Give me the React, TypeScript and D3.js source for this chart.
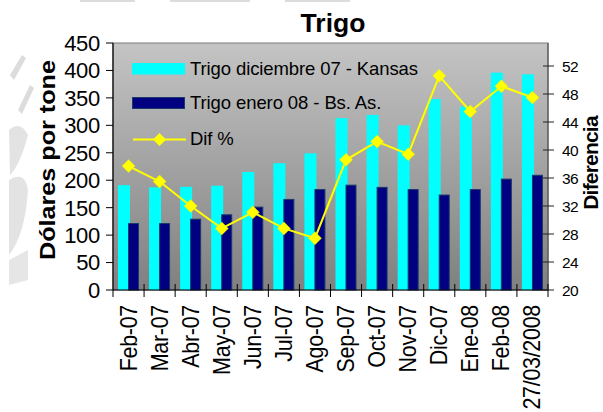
import React from "react";
import * as d3 from "d3";

const categories = ["Feb-07","Mar-07","Abr-07","May-07","Jun-07","Jul-07","Ago-07","Sep-07","Oct-07","Nov-07","Dic-07","Ene-08","Feb-08","27/03/2008"];
const kansas = [191, 187, 188, 190, 215, 231, 249, 313, 319, 300, 348, 334, 396, 393];
const bsas = [121, 121, 129, 137, 151, 165, 183, 191, 187, 183, 173, 183, 202, 209];
const difPct = [37.7, 35.5, 32.0, 28.8, 31.1, 28.8, 27.4, 38.6, 41.2, 39.4, 50.6, 45.5, 49.1, 47.5];
const leftTicks = [0, 50, 100, 150, 200, 250, 300, 350, 400, 450];
const rightTicks = [20, 24, 28, 32, 36, 40, 44, 48, 52];
const seriesNames = ["Trigo diciembre 07 - Kansas", "Trigo enero 08 - Bs. As.", "Dif %"];

const W = 603, H = 412;
const L = 113, R = 548, T = 43, B = 290;
const FONT = "'Liberation Sans', Arial, sans-serif";

export default function App() {
  const x = d3.scaleBand<string>().domain(categories).range([L, R]).padding(0);
  const bw = x.bandwidth();
  const yL = d3.scaleLinear().domain([0, 450]).range([B, T]);
  const yR = d3.scaleLinear().domain([20, 20 + (B - T) / 7]).range([B, T]);
  const line = d3.line<number>()
    .x((_, i) => (x(categories[i]) as number) + bw / 2)
    .y((d) => yR(d));
  const diamond = (cx: number, cy: number, r: number) =>
    `M${cx},${cy - r}L${cx + r},${cy}L${cx},${cy + r}L${cx - r},${cy}Z`;

  return (
    <svg width={W} height={H} style={{ position: "fixed", left: 0, top: 0, background: "#fff" }} fontFamily={FONT}>
      <defs>
        <linearGradient id="bg" x1="0" y1="0" x2="0" y2="1">
          <stop offset="0" stopColor="#c4c4c4" />
          <stop offset="1" stopColor="#808080" />
        </linearGradient>
      </defs>
      {/* faint watermark fragments */}
      <g fill="#dcdcdc">
        <rect x={80} y={0} width={55} height={2} />
        <rect x={170} y={0} width={60} height={2} />
        <rect x={228} y={0} width={22} height={2} />
        <rect x={285} y={0} width={65} height={2} />
        <path d="M10,75 L22,55 L26,58 L14,80 Z" />
        <path d="M18,110 L30,85 L34,88 L22,114 Z" />
        <path d="M9,130 Q20,120 28,135 Q20,165 10,175 Z" opacity={0.8} />
        <path d="M9,180 Q25,170 28,190 Q25,235 9,255 Z" opacity={0.8} />
        <path d="M9,260 L28,250 L28,280 L9,285 Z" opacity={0.7} />
      </g>

      {/* plot background */}
      <rect x={L} y={T} width={R - L} height={B - T} fill="url(#bg)" stroke="#7a7a7a" strokeWidth={1} />

      {/* bars */}
      {categories.map((c, i) => {
        const x0 = x(c) as number;
        return (
          <g key={c}>
            <rect x={x0 + 5} y={yL(kansas[i])} width={12} height={B - yL(kansas[i])} fill="#00ffff" />
            <rect x={x0 + 15.5} y={yL(bsas[i])} width={10} height={B - yL(bsas[i])} fill="#000080" stroke="#1a3a6a" strokeWidth={1} />
          </g>
        );
      })}

      {/* line */}
      <path d={line(difPct) || ""} fill="none" stroke="#ffff00" strokeWidth={2} />
      {difPct.map((d, i) => (
        <path key={i} d={diamond((x(categories[i]) as number) + bw / 2, yR(d), 6.5)} fill="#ffff00" stroke="#e8e800" strokeWidth={0.5} />
      ))}

      {/* axes */}
      <line x1={L} y1={T} x2={L} y2={B} stroke="#000" strokeWidth={1.2} />
      <line x1={L} y1={B} x2={R} y2={B} stroke="#000" strokeWidth={1.2} />
      <line x1={R} y1={T} x2={R} y2={B} stroke="#555" strokeWidth={1.2} />
      {leftTicks.map((t) => (
        <g key={t}>
          <line x1={106} x2={L} y1={yL(t)} y2={yL(t)} stroke="#000" />
          <text x={100} y={yL(t)} dy="0.36em" textAnchor="end" fontSize={22} letterSpacing={-0.3}>{t}</text>
        </g>
      ))}
      {rightTicks.map((t) => (
        <g key={t}>
          <line x1={543} x2={554} y1={yR(t)} y2={yR(t)} stroke="#222" />
          <text x={562} y={yR(t)} dy="0.36em" textAnchor="start" fontSize={15.5} letterSpacing={-0.5}>{t}</text>
        </g>
      ))}
      {d3.range(categories.length + 1).map((i) => {
        const xx = L + i * bw;
        return <line key={i} x1={xx} x2={xx} y1={i === 0 ? B : 284} y2={297} stroke="#000" />;
      })}
      {categories.map((c) => {
        const cx = (x(c) as number) + bw / 2;
        return (
          <text key={c} transform={`translate(${cx + 8},${305}) scale(1.1,1) rotate(-90)`} textAnchor="end" fontSize={21.5} letterSpacing={-0.3}>{c}</text>
        );
      })}

      {/* title */}
      <text x={333} y={32} textAnchor="middle" fontSize={26.5} fontWeight="bold">Trigo</text>

      {/* axis titles */}
      <text transform="translate(55,160) rotate(-90)" textAnchor="middle" fontSize={22} fontWeight="bold" textLength={200} lengthAdjust="spacingAndGlyphs">Dólares por tone</text>
      <text transform="translate(598,163) rotate(-90)" textAnchor="middle" fontSize={21} fontWeight="bold" letterSpacing={-0.8}>Diferencia</text>

      {/* legend */}
      <rect x={132} y={63} width={53} height={11.5} fill="#00ffff" />
      <text x={190} y={74.5} fontSize={18.5} letterSpacing={-0.1}>{seriesNames[0]}</text>
      <rect x={132.5} y={97.5} width={52} height={11} fill="#000080" stroke="#1a3a6a" strokeWidth={1} />
      <text x={190} y={108.5} fontSize={18.5} letterSpacing={-0.1}>{seriesNames[1]}</text>
      <line x1={133} x2={186} y1={139.5} y2={139.5} stroke="#ffff00" strokeWidth={2} />
      <path d={diamond(159.5, 139.5, 6.5)} fill="#ffff00" />
      <text x={190} y={144.5} fontSize={18.5} letterSpacing={-0.1}>{seriesNames[2]}</text>
    </svg>
  );
}
